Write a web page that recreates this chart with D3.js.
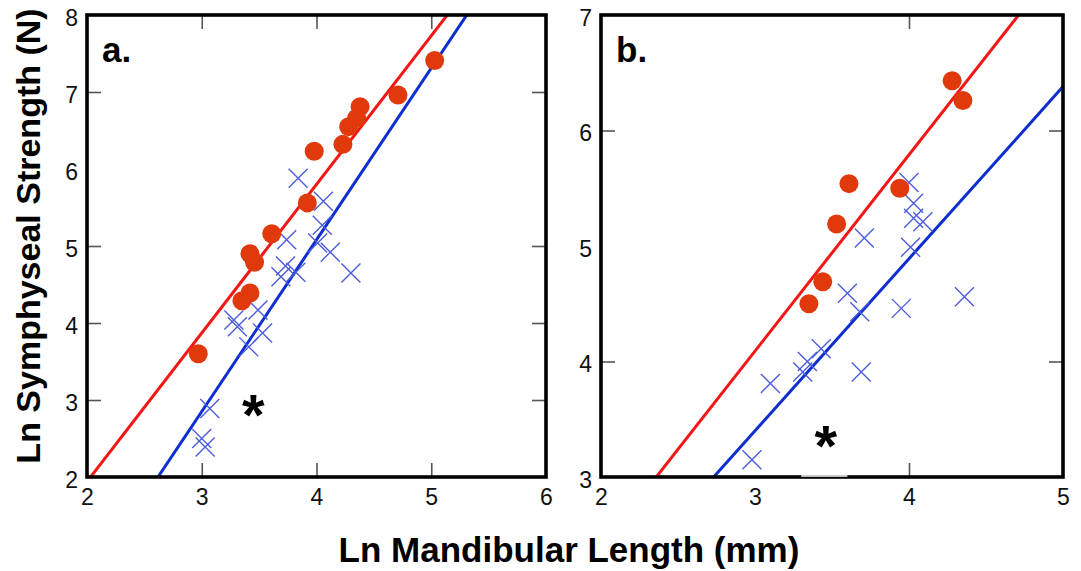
<!DOCTYPE html>
<html>
<head>
<meta charset="utf-8">
<script src="https://cdn.jsdelivr.net/npm/d3@7"></script>
<style>
  html, body { margin: 0; padding: 0; background: #fff; }
  svg { display: block; font-family: "Liberation Sans", Arial, sans-serif; }
</style>
</head>
<body>
<svg id="chart" width="1081" height="571"></svg>
<script>
// ---------- Data ----------
// Panel a: x = Ln mandibular length, y = Ln symphyseal strength
const aRedX = [5.03, 4.71, 4.38, 4.35, 4.28, 4.23, 3.98, 3.92, 3.61, 3.42, 3.46, 3.42, 3.35, 2.97];
const aRedY = [7.41, 6.96, 6.81, 6.66, 6.55, 6.32, 6.23, 5.56, 5.16, 4.90, 4.79, 4.39, 4.29, 3.60];
const aBlueX = [3.84, 4.06, 4.05, 4.01, 4.12, 4.30, 3.74, 3.73, 3.69, 3.82, 3.49, 3.28, 3.31, 3.53, 3.41, 3.07, 3.00, 3.03];
const aBlueY = [5.88, 5.58, 5.27, 5.04, 4.92, 4.65, 5.08, 4.74, 4.60, 4.66, 4.17, 4.04, 3.95, 3.87, 3.69, 2.89, 2.50, 2.39];
// regression lines [intercept, slope]
const aRedLine = [-1.92, 1.93];
const aBlueLine = [-3.84, 2.23];

// Panel b
const bRedX = [4.28, 4.35, 3.61, 3.94, 3.53, 3.44, 3.35];
const bRedY = [6.43, 6.26, 5.54, 5.50, 5.19, 4.69, 4.50];
const bBlueX = [4.00, 4.03, 4.03, 4.09, 3.71, 4.01, 3.60, 3.68, 3.95, 4.36, 3.43, 3.34, 3.31, 3.69, 3.10, 2.98];
const bBlueY = [5.55, 5.37, 5.24, 5.21, 5.07, 4.99, 4.59, 4.43, 4.46, 4.56, 4.11, 4.00, 3.91, 3.91, 3.81, 3.15];
const bRedLine = [-1.01, 1.70];
const bBlueLine = [-1.07, 1.49];

// Axis ticks
const aXTicks = [2, 3, 4, 5, 6];
const aYTicks = [2, 3, 4, 5, 6, 7, 8];
const bXTicks = [2, 3, 4, 5];
const bYTicks = [3, 4, 5, 6, 7];
const panelLabels = ["a.", "b."];
const xTitle = "Ln Mandibular Length (mm)";
const yTitle = "Ln Symphyseal Strength (N)";
// asterisk positions in data units
const aStar = [3.45, 2.935];
const bStar = [3.46, 3.36];

// ---------- Drawing ----------
const svg = d3.select("#chart");
const RED_PT = "#e0390b", RED_LN = "#f41515", BLUE_LN = "#0f2ed0", BLUE_PT = "#4b5cdc";

function panel(opts, idx) {
  const { x0, x1, y0, y1, xd, yd, xt, yt, redX, redY, blueX, blueY, redLine, blueLine, star } = opts;
  const x = d3.scaleLinear().domain(xd).range([x0, x1]);
  const y = d3.scaleLinear().domain(yd).range([y1, y0]);
  const g = svg.append("g");
  const clipId = "clip" + idx;
  svg.append("clipPath").attr("id", clipId).append("rect")
    .attr("x", x0).attr("y", y0).attr("width", x1 - x0).attr("height", y1 - y0);

  const tickStyle = sel => {
    sel.select(".domain").remove();
    sel.selectAll(".tick line").attr("stroke", "#555").attr("stroke-width", 1.6);
    sel.selectAll(".tick text").attr("fill", "#111").style("font-size", "23px")
      .style("font-family", "'Liberation Sans', Arial, sans-serif");
  };
  // bottom axis with labels
  g.append("g").attr("transform", `translate(0,${y1})`)
    .call(d3.axisBottom(x).tickValues(xt).tickSize(-14).tickPadding(12).tickFormat(d3.format("d")))
    .call(tickStyle);
  // top axis ticks only
  g.append("g").attr("transform", `translate(0,${y0})`)
    .call(d3.axisTop(x).tickValues(xt.slice(1, -1)).tickSize(-14).tickFormat(""))
    .call(tickStyle);
  // left axis with labels
  g.append("g").attr("transform", `translate(${x0},0)`)
    .call(d3.axisLeft(y).tickValues(yt).tickSize(-14).tickPadding(9).tickFormat(d3.format("d")))
    .call(tickStyle)
    .selectAll(".tick text").attr("dy", "0.45em");
  // right axis ticks only
  g.append("g").attr("transform", `translate(${x1},0)`)
    .call(d3.axisRight(y).tickValues(yt.slice(1, -1)).tickSize(-14).tickFormat(""))
    .call(tickStyle);
  // hide the end tick lines at frame corners
  g.selectAll(".tick").filter(d => d === xd[0] || d === xd[1] || d === yd[0] || d === yd[1])
    .select("line").remove();

  const plot = g.append("g").attr("clip-path", `url(#${clipId})`);
  const lineGen = d3.line().x(d => x(d[0])).y(d => y(d[1]));
  const extX = [xd[0] - 2, xd[1] + 2];
  const mkl = l => extX.map(v => [v, l[0] + l[1] * v]);

  plot.append("path").datum(mkl(redLine)).attr("d", lineGen)
    .attr("fill", "none").attr("stroke", RED_LN).attr("stroke-width", 3);
  plot.append("path").datum(mkl(blueLine)).attr("d", lineGen)
    .attr("fill", "none").attr("stroke", BLUE_LN).attr("stroke-width", 3);

  const blue = blueX.map((v, i) => [v, blueY[i]]);
  const s = 9.5;
  plot.append("g").selectAll("path").data(blue).join("path")
    .attr("d", d => {
      const cx = x(d[0]), cy = y(d[1]);
      return `M${cx - s},${cy - s}L${cx + s},${cy + s}M${cx - s},${cy + s}L${cx + s},${cy - s}`;
    })
    .attr("stroke", BLUE_PT).attr("stroke-width", 1.4).attr("fill", "none");

  const red = redX.map((v, i) => [v, redY[i]]);
  plot.append("g").selectAll("circle").data(red).join("circle")
    .attr("cx", d => x(d[0])).attr("cy", d => y(d[1])).attr("r", 9.5)
    .attr("fill", RED_PT);

  // asterisk (ink centred on the data position)
  g.append("text").attr("x", x(star[0])).attr("y", y(star[1]))
    .attr("text-anchor", "middle").attr("dy", "0.52em")
    .style("font-size", "58px").style("font-weight", "bold").text("*");

  // frame
  g.append("rect").attr("x", x0).attr("y", y0).attr("width", x1 - x0).attr("height", y1 - y0)
    .attr("fill", "none").attr("stroke", "#000").attr("stroke-width", 3.6);

  // panel label
  g.append("text").attr("x", x0 + 15).attr("y", y0 + 47)
    .style("font-size", "35px").style("font-weight", "bold").text(panelLabels[idx]);
  return { x, y, g };
}

panel({ x0: 87, x1: 546, y0: 15, y1: 477, xd: [2, 6], yd: [2, 8], xt: aXTicks, yt: aYTicks,
  redX: aRedX, redY: aRedY, blueX: aBlueX, blueY: aBlueY, redLine: aRedLine, blueLine: aBlueLine, star: aStar }, 0);
const pb = panel({ x0: 601, x1: 1063, y0: 15, y1: 477, xd: [2, 5], yd: [3, 7], xt: bXTicks, yt: bYTicks,
  redX: bRedX, redY: bRedY, blueX: bBlueX, blueY: bBlueY, redLine: bRedLine, blueLine: bBlueLine, star: bStar }, 1);

// small light gap in panel b bottom frame (as in the reference)
pb.g.append("line").attr("x1", pb.x(3.3)).attr("x2", pb.x(3.6)).attr("y1", 476).attr("y2", 476)
  .attr("stroke", "#fff").attr("stroke-width", 1.6);

// axis titles
svg.append("text").attr("x", 569).attr("y", 562).attr("text-anchor", "middle")
  .style("font-size", "35px").style("font-weight", "bold").text(xTitle);
svg.append("text").attr("transform", "translate(40,236) rotate(-90)").attr("text-anchor", "middle")
  .style("font-size", "34px").style("font-weight", "bold").text(yTitle);
</script>
</body>
</html>
